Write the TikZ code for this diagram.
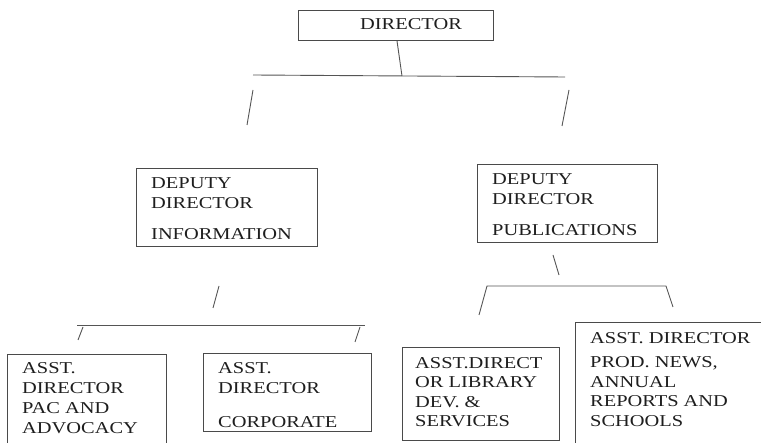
\documentclass[tikz,border=0pt]{standalone}
\usepackage{fontspec}
\setmainfont{Liberation Serif}[FakeStretch=1.23]
\definecolor{boxgray}{HTML}{4A4A4A}
\definecolor{linegray}{HTML}{555555}
\definecolor{textgray}{HTML}{1E1E1E}
\begin{document}
\begin{tikzpicture}[x=1pt,y=-1pt,
  box/.style={draw=boxgray, line width=0.9pt, rectangle, inner sep=0pt, anchor=north west},
  txt/.style={anchor=north west, inner sep=0pt, align=left,
              font=\fontsize{16.6}{20}\selectfont, text=textgray},
  link/.style={draw=linegray, line width=0.9pt}]
  \clip (0,0) rectangle (761,443);
  \fill[white] (0,0) rectangle (761,443);

  % boxes
  \node[box, minimum width=195pt, minimum height=30pt] (dir)  at (298,10)  {};
  \node[box, minimum width=181pt, minimum height=78pt] (info) at (136,168) {};
  \node[box, minimum width=180pt, minimum height=78pt] (pub)  at (477,164) {};
  \node[box, minimum width=159pt, minimum height=130pt] (pac) at (7,354)   {};
  \node[box, minimum width=168pt, minimum height=78pt] (corp) at (203,353) {};
  \node[box, minimum width=157pt, minimum height=93pt] (lib)  at (402,347) {};
  \node[box, minimum width=220pt, minimum height=160pt] (prod) at (575,322) {};

  % box texts
  \node[txt] (dir-t)  at (360,18)  {DIRECTOR};
  \node[txt] (info-t) at (151,177) {DEPUTY\\DIRECTOR\\[11pt]INFORMATION};
  \node[txt] (pub-t)  at (492,173) {DEPUTY\\DIRECTOR\\[11pt]PUBLICATIONS};
  \node[txt] (pac-t)  at (22,362)  {ASST.\\DIRECTOR\\PAC AND\\ADVOCACY};
  \node[txt] (corp-t) at (218,362) {ASST.\\DIRECTOR\\[14pt]CORPORATE};
  \node[txt,font=\fontsize{16.6}{19.5}\selectfont] (lib-t) at (415,357)
    {ASST.DIRECT\\OR LIBRARY\\DEV. \&\\SERVICES};
  \node[txt,font=\fontsize{16.6}{19.5}\selectfont] (prod-t) at (590,332)
    {ASST. DIRECTOR\\[5pt]PROD. NEWS,\\ANNUAL\\REPORTS AND\\SCHOOLS};

  % connector points
  \coordinate (hub)    at (402,76);
  \coordinate (barL)   at (253,75);
  \coordinate (barR)   at (565,77);
  \coordinate (slL1)   at (253,90);
  \coordinate (slL2)   at (247,125);
  \coordinate (slR1)   at (569,90);
  \coordinate (slR2)   at (562,126);

  \coordinate (pubS1)  at (553,255);
  \coordinate (pubS2)  at (559,275);
  \coordinate (pbarL)  at (487,286);
  \coordinate (pbarR)  at (666,286);
  \coordinate (pdropL) at (479,315);
  \coordinate (pdropR) at (673,307);

  \coordinate (infS1)  at (219,286);
  \coordinate (infS2)  at (213,308);
  \coordinate (ibarL)  at (77,325);
  \coordinate (ibarR)  at (365,325);
  \coordinate (isL1)   at (83,327);
  \coordinate (isL2)   at (78,340);
  \coordinate (isR1)   at (360,327);
  \coordinate (isR2)   at (355,342);

  % connectors
  \draw[link] (dir.south -| 397,0) -- (hub);
  \draw[link] (barL) -- (barR);
  \draw[link] (slL1) -- (slL2);
  \draw[link] (slR1) -- (slR2);

  \draw[link] (pubS1) -- (pubS2);
  \draw[link] (pdropL) -- (pbarL) -- (pbarR) -- (pdropR);

  \draw[link] (infS1) -- (infS2);
  \draw[link] (ibarL) -- (ibarR);
  \draw[link] (isL1) -- (isL2);
  \draw[link] (isR1) -- (isR2);
\end{tikzpicture}
\end{document}
